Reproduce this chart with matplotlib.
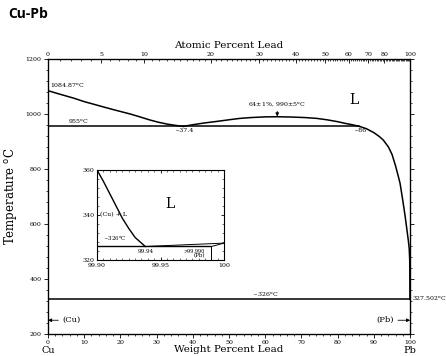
import numpy as np
import matplotlib
matplotlib.use('Agg')
import matplotlib.pyplot as plt
from matplotlib.ticker import MultipleLocator, FixedLocator

# 데이터
liq_cu_x = [0, 3, 7, 10, 14.4, 18, 22.7, 25, 28.2, 30.5, 33, 35, 37.4]
liq_cu_t = [1084.87, 1073, 1058, 1045, 1029, 1016, 1000, 991, 978, 970, 963, 959, 955]
dome_x = [37.4, 40, 43, 46.6, 50, 53, 56, 60, 63.3, 67, 71, 74.2, 77, 80, 82, 84, 86]
dome_t = [955, 961, 967, 973, 979, 984, 987, 989.5, 990, 989, 987, 984, 979, 972, 966, 961, 955]
liq_pb_x = [86, 88, 90, 91.5, 92.6, 94, 95, 96, 96.6, 97.2, 97.8, 98.6, 99.1, 99.5,
            99.75, 99.88, 99.92, 99.94]
liq_pb_t = [955, 946, 932, 918, 905, 880, 853, 810, 780, 749, 700, 630, 580, 540,
            510, 470, 410, 326]
mono_t = 955
eut_t = 326
pb_melt = 327.502

inset_liq_x = [99.90, 99.905, 99.91, 99.915, 99.92, 99.925, 99.93, 99.935, 99.938]
inset_liq_t = [360, 355, 349.5, 344, 338.5, 334, 330, 327.5, 326]

at_ticks = [0, 5, 10, 20, 30, 40, 50, 60, 70, 80, 100]
M_CU, M_PB = 63.546, 207.2


def at2wt(a):
    a = np.asarray(a, dtype=float)
    return a * M_PB / (a * M_PB + (100 - a) * M_CU) * 100


serif = 'DejaVu Serif'
fig = plt.figure(figsize=(4.46, 3.56), dpi=100)
ax = fig.add_axes([0.1076, 0.0618, 0.812, 0.7725])
ax.set_xlim(0, 100)
ax.set_ylim(200, 1200)

lw = 1.1
ax.plot(liq_cu_x, liq_cu_t, color='black', lw=lw)
ax.plot(dome_x, dome_t, color='black', lw=lw)
ax.plot(liq_pb_x, liq_pb_t, color='black', lw=lw)
ax.hlines(mono_t, 0, 86, color='black', lw=lw)
ax.hlines(eut_t, 0, 100, color='black', lw=lw)

# 축 눈금
ax.yaxis.set_major_locator(MultipleLocator(200))
ax.yaxis.set_minor_locator(MultipleLocator(40))
ax.xaxis.set_major_locator(MultipleLocator(10))
ax.xaxis.set_minor_locator(MultipleLocator(2))
ax.tick_params(which='both', direction='out', labelsize=4.5, right=True)
ax.tick_params(which='major', length=3, width=0.6)
ax.tick_params(which='minor', length=1.5, width=0.5)
for lab in ax.get_xticklabels() + ax.get_yticklabels():
    lab.set_family(serif)
ax.tick_params(axis='x', pad=1.5)
ax.tick_params(axis='y', pad=1.5)
for s in ax.spines.values():
    s.set_linewidth(0.9)

ax.set_ylabel('Temperature $^{\\mathrm{o}}$C', family=serif, fontsize=8.5, labelpad=5)
ax.set_xlabel('Weight Percent Lead', family=serif, fontsize=7.5, labelpad=0)

# 위쪽 원자 퍼센트 축
top = ax.twiny()
top.set_xlim(0, 100)
top.xaxis.set_major_locator(FixedLocator(at2wt(at_ticks)))
top.set_xticklabels([str(a) for a in at_ticks], family=serif, fontsize=4.5)
top.xaxis.set_minor_locator(FixedLocator(at2wt(np.arange(0, 100, 1))))
top.tick_params(which='both', direction='in', pad=1.5)
top.tick_params(which='major', length=3, width=0.6)
top.tick_params(which='minor', length=1.5, width=0.5)
top.set_xlabel('Atomic Percent Lead', family=serif, fontsize=7.5, labelpad=3)

# 라벨
fs = 4.5
ax.text(0.5, 1087, '1084.87$^{\\mathrm{o}}$C', family=serif, fontsize=fs, va='bottom')
ax.text(5.5, 957, '955$^{\\mathrm{o}}$C', family=serif, fontsize=fs, va='bottom')
ax.text(37.5, 948, '~37.4', family=serif, fontsize=fs, ha='center', va='top')
ax.text(86, 948, '~86', family=serif, fontsize=fs, ha='center', va='top')
ax.annotate('64$\\pm$1%, 990$\\pm$5$^{\\mathrm{o}}$C', xy=(63.3, 991), xytext=(63.3, 1020),
            family=serif, fontsize=fs, ha='center', va='bottom',
            arrowprops=dict(arrowstyle='-|>', color='black', lw=0.6, mutation_scale=5,
                            shrinkA=0, shrinkB=0))
ax.text(84.5, 1052, 'L', family=serif, fontsize=10, ha='center', va='center')
ax.text(60, 328, '~326$^{\\mathrm{o}}$C', family=serif, fontsize=fs, ha='center', va='bottom')
ax.text(100.5, 326, '327.502$^{\\mathrm{o}}$C', family=serif, fontsize=fs, ha='left', va='center')
ax.annotate('(Cu)', xy=(0, 250), xytext=(4, 250), family=serif, fontsize=6, va='center',
            arrowprops=dict(arrowstyle='-|>', color='black', lw=0.6, mutation_scale=5,
                            shrinkA=1, shrinkB=0))
ax.annotate('(Pb)', xy=(100, 250), xytext=(95.5, 250), family=serif, fontsize=6, va='center',
            ha='right', arrowprops=dict(arrowstyle='-|>', color='black', lw=0.6,
                                        mutation_scale=5, shrinkA=1, shrinkB=0))
ax.text(0, 140, 'Cu', family=serif, fontsize=7, ha='center', va='center', clip_on=False)
ax.text(100, 140, 'Pb', family=serif, fontsize=7, ha='center', va='center', clip_on=False)

fig.text(0.018, 0.96, 'Cu-Pb', fontsize=10, fontweight='bold', family='Open Sans',
         va='center', ha='left')

# 삽입 그래프
ins = fig.add_axes([0.2175, 0.2697, 0.285, 0.2528])
ins.set_xlim(99.90, 100.0)
ins.set_ylim(320, 360)
ins.plot(inset_liq_x, inset_liq_t, color='black', lw=1.0)
ins.hlines(eut_t, 99.90, 99.99, color='black', lw=1.0)
ins.plot([99.938, 100.0], [eut_t, pb_melt], color='black', lw=0.7)
ins.plot([99.99, 100.0], [eut_t, pb_melt], color='black', lw=0.7)
ins.vlines(99.99, 320, eut_t, color='black', lw=0.7)
ins.xaxis.set_major_locator(FixedLocator([99.90, 99.95, 100.0]))
ins.set_xticklabels(['99.90', '99.95', '100'], family=serif, fontsize=4.5)
ins.xaxis.set_minor_locator(MultipleLocator(0.005))
ins.yaxis.set_major_locator(MultipleLocator(20))
ins.yaxis.set_minor_locator(MultipleLocator(4))
for lab in ins.get_yticklabels():
    lab.set_family(serif)
ins.tick_params(which='both', direction='in', labelsize=4.5, top=True, right=True, pad=2)
ins.tick_params(which='major', length=2.5, width=0.6)
ins.tick_params(which='minor', length=1.2, width=0.4)
for s in ins.spines.values():
    s.set_linewidth(0.8)
ins.text(99.905, 327.5, '~326$^{\\mathrm{o}}$C', family=serif, fontsize=4, va='bottom')
ins.text(99.938, 325, '99.94', family=serif, fontsize=4, ha='center', va='top')
ins.text(99.902, 340, '(Cu) + L', family=serif, fontsize=4.5, va='center')
ins.text(99.957, 345, 'L', family=serif, fontsize=10, ha='center', va='center')
ins.text(99.985, 325, '>99.990', family=serif, fontsize=3.5, ha='right', va='top')
ins.text(99.985, 320.8, '(Pb)', family=serif, fontsize=4, ha='right', va='bottom')

fig.savefig('out.png', dpi=100)
